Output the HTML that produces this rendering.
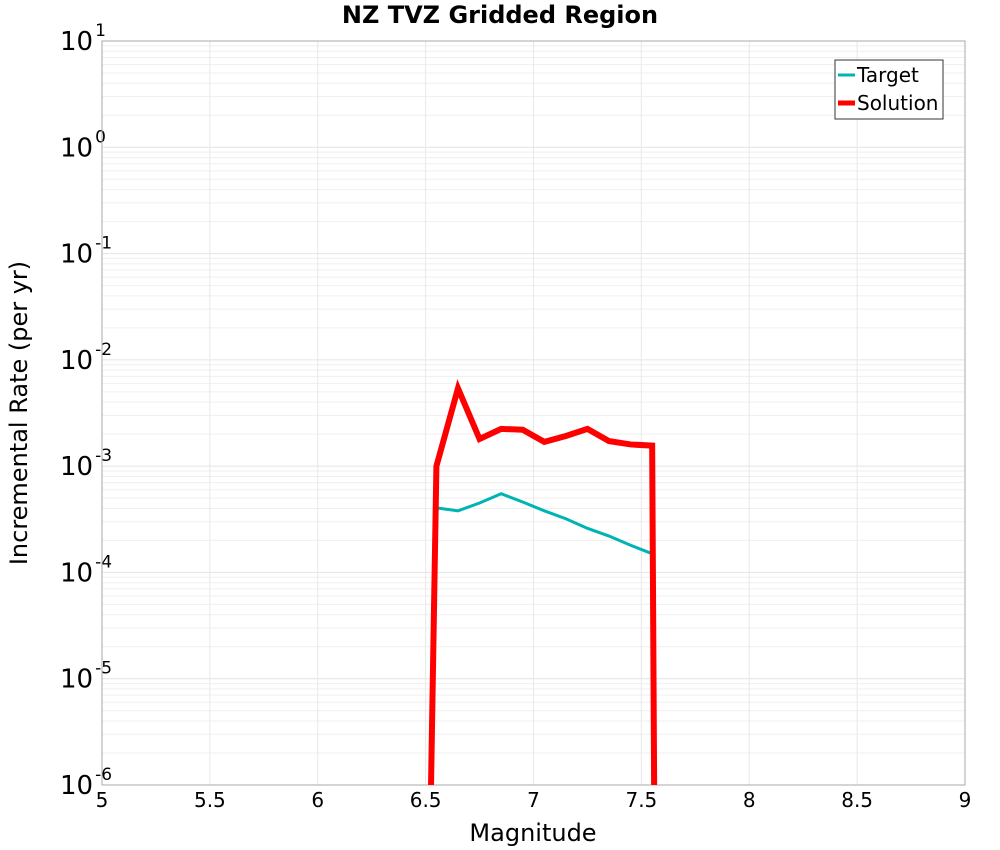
<!DOCTYPE html>
<html><head><meta charset="utf-8"><style>
html,body{margin:0;padding:0;background:#fff;overflow:hidden;width:1000px;height:850px;font-family:"Liberation Sans","DejaVu Sans",sans-serif}
svg{display:block}
</style></head><body>
<svg id="chart" width="1000" height="850" xmlns="http://www.w3.org/2000/svg">
<text x="500" y="23" text-anchor="middle" font-size="24" font-weight="bold" font-family="DejaVu Sans, sans-serif">NZ TVZ Gridded Region</text>
<g id="grid"></g>
<g id="axes"></g>
<g id="series"></g>
<text x="533" y="841" text-anchor="middle" font-size="24" font-family="DejaVu Sans, sans-serif">Magnitude</text>
<text transform="translate(27,413) rotate(-90)" text-anchor="middle" font-size="24" font-family="DejaVu Sans, sans-serif">Incremental Rate (per yr)</text>
<g>
<rect x="835" y="60" width="108" height="59" fill="#fff" stroke="#333" stroke-width="1"/>
<line x1="838" y1="75" x2="855" y2="75" stroke="#00b4b4" stroke-width="3"/>
<text x="857" y="82" font-size="20" font-family="DejaVu Sans, sans-serif">Target</text>
<line x1="838" y1="103" x2="855" y2="103" stroke="#ff0000" stroke-width="5"/>
<text x="857" y="110" font-size="20" font-family="DejaVu Sans, sans-serif">Solution</text>
</g>
</svg>
<script>
const xTicks=[5,5.5,6,6.5,7,7.5,8,8.5,9];
const yExps=[1,0,-1,-2,-3,-4,-5,-6];
const solMags=[6.45,6.55,6.65,6.75,6.85,6.95,7.05,7.15,7.25,7.35,7.45,7.55,7.585];
const solVals=[1e-15,1.0e-3,5.4e-3,1.8e-3,2.24e-3,2.2e-3,1.69e-3,1.92e-3,2.24e-3,1.72e-3,1.6e-3,1.56e-3,1e-15];
const tgtMags=[6.55,6.65,6.75,6.85,6.95,7.05,7.15,7.25,7.35,7.45,7.55,7.565];
const tgtVals=[4.05e-4,3.8e-4,4.5e-4,5.5e-4,4.6e-4,3.8e-4,3.2e-4,2.6e-4,2.2e-4,1.8e-4,1.5e-4,1e-15];
const L=102,R=965,T=41,B=785;
const xs=m=>L+(m-5)/(9-5)*(R-L);
const ys=v=>T+(1-Math.log10(v))/7*(B-T);
const NS="http://www.w3.org/2000/svg";
function mk(tag,attrs,parent){const e=document.createElementNS(NS,tag);for(const k in attrs)e.setAttribute(k,attrs[k]);parent.appendChild(e);return e;}
const grid=document.getElementById('grid'),axes=document.getElementById('axes'),series=document.getElementById('series');
for(let e=-6;e<1;e++){for(let k=2;k<=9;k++){const y=ys(k*Math.pow(10,e));
const l=mk('line',{x1:L,x2:R,y1:y,y2:y,stroke:'#efefef','stroke-width':1},grid);

}}
yExps.forEach(e=>{const y=ys(Math.pow(10,e));
const l=mk('line',{x1:L,x2:R,y1:y,y2:y,stroke:'#e4e4e4','stroke-width':1},grid);


const t=mk('text',{x:60,y:y+9,'text-anchor':'start','font-size':26,'font-family':'DejaVu Sans, sans-serif'},axes);


t.textContent='10';
const s=mk('tspan',{dx:2,dy:-14,'font-size':17},t);s.textContent=String(e);});
xTicks.forEach(m=>{const x=xs(m);
const l=mk('line',{x1:x,x2:x,y1:T,y2:B,stroke:'#e8e8e8','stroke-width':1},grid);


const t=mk('text',{x:x,y:B+22,'text-anchor':'middle','font-size':20,'font-family':'DejaVu Sans, sans-serif'},axes);


t.textContent=String(m);});
const fr=mk('rect',{x:L,y:T,width:R-L,height:B-T,fill:'none',stroke:'#aaa','stroke-width':1},axes);


const cp=mk('clipPath',{id:'clip'},document.getElementById('chart'));
mk('rect',{x:L,y:T,width:R-L,height:B-T},cp);
function line(mags,vals,color,w,name){
const p=mk('polyline',{points:mags.map((m,i)=>xs(m)+','+ys(vals[i])).join(' '),fill:'none',stroke:color,'stroke-width':w,'stroke-linejoin':'miter','clip-path':'url(#clip)'},series);

}
line(tgtMags,tgtVals,'#00b4b4',3,'target-line');
line(solMags,solVals,'#ff0000',6,'solution-line');
</script>
</body></html>
